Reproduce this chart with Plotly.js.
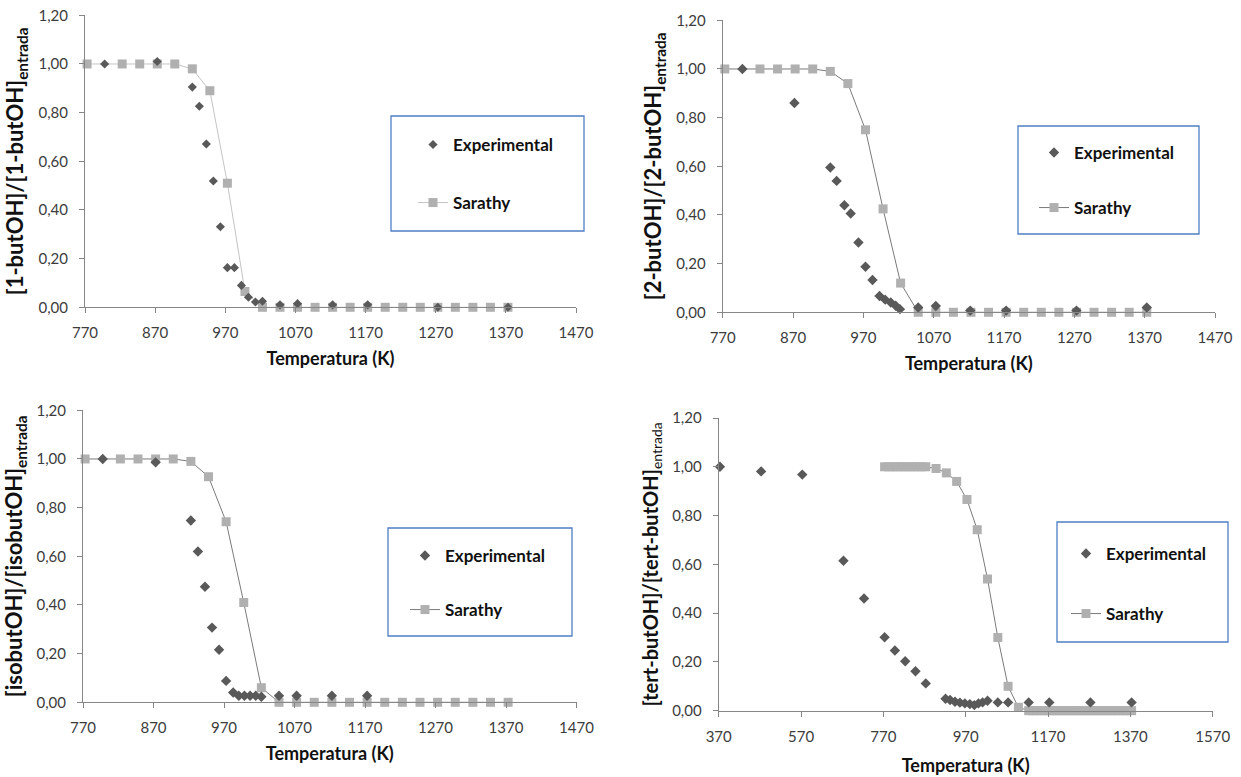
<!DOCTYPE html>
<html>
<head>
<meta charset="utf-8">
<script src="https://cdn.plot.ly/plotly-3.0.1.min.js"></script>
<style>
  html, body { margin: 0; padding: 0; background: #ffffff; }
  #chart { width: 1241px; height: 777px; }
</style>
</head>
<body>
<div id="chart"></div>
<script>
// Remaining fraction of each butanol isomer vs. temperature (K):
// experimental points and the Sarathy mechanism prediction.

const X_TICKS_A = [770, 870, 970, 1070, 1170, 1270, 1370, 1470];
const X_TICKS_B = [370, 570, 770, 970, 1170, 1370, 1570];
const Y_TICKS = [0, 0.2, 0.4, 0.6, 0.8, 1.0, 1.2];

const X_TITLE = 'Temperatura (K)';
const SUBSCRIPT = 'entrada';
const Y_TITLES = ['[1-butOH]/[1-butOH]', '[2-butOH]/[2-butOH]', '[isobutOH]/[isobutOH]', '[tert-butOH]/[tert-butOH]'];
const SERIES_NAMES = ['Experimental', 'Sarathy'];

// Sarathy model, shared temperature grid for 1-, 2- and iso-butanol
const T_SARATHY = [773, 823, 848, 873, 898, 923, 948, 973, 998, 1023, 1048, 1073, 1098, 1123, 1148, 1173, 1198, 1223, 1248, 1273, 1298, 1323, 1348, 1373];
const SARATHY_1BUT = [1, 1, 1, 1, 1, 0.98, 0.89, 0.51, 0.065, 0, 0, 0, 0, 0, 0, 0, 0, 0, 0, 0, 0, 0, 0, 0];
const SARATHY_2BUT = [1, 1, 1, 1, 1, 0.99, 0.94, 0.75, 0.425, 0.12, 0, 0, 0, 0, 0, 0, 0, 0, 0, 0, 0, 0, 0, 0];
const SARATHY_ISOBUT = [1, 1, 1, 1, 1, 0.99, 0.927, 0.742, 0.41, 0.06, 0, 0, 0, 0, 0, 0, 0, 0, 0, 0, 0, 0, 0, 0];

// Sarathy model, tert-butanol (finer grid on the plateaus)
const T_SARATHY_TERT = [773, 783, 793, 803, 813, 823, 833, 843, 853, 863, 873, 898, 923, 948, 973, 998, 1023, 1048, 1073, 1098, 1123, 1133, 1143, 1153, 1163, 1173, 1183, 1193, 1203, 1213, 1223, 1233, 1243, 1253, 1263, 1273, 1283, 1293, 1303, 1313, 1323, 1333, 1343, 1353, 1363, 1373];
const SARATHY_TERT = [1, 1, 1, 1, 1, 1, 1, 1, 1, 1, 1, 0.993, 0.975, 0.94, 0.866, 0.742, 0.54, 0.30, 0.10, 0.014, 0, 0, 0, 0, 0, 0, 0, 0, 0, 0, 0, 0, 0, 0, 0, 0, 0, 0, 0, 0, 0, 0, 0, 0, 0, 0];

// Experimental data
const T_EXP_1BUT = [798, 873, 923, 933, 943, 953, 963, 973, 983, 993, 1003, 1013, 1023, 1048, 1073, 1123, 1173, 1273, 1373];
const EXP_1BUT = [1.00, 1.01, 0.905, 0.826, 0.671, 0.519, 0.331, 0.163, 0.163, 0.09, 0.041, 0.022, 0.025, 0.01, 0.015, 0.01, 0.01, 0.0, 0.0];

const T_EXP_2BUT = [798, 872, 923, 932, 943, 952, 963, 973, 983, 993, 1001, 1009, 1016, 1022, 1048, 1073, 1122, 1173, 1273, 1373];
const EXP_2BUT = [1.00, 0.86, 0.595, 0.54, 0.44, 0.406, 0.287, 0.187, 0.133, 0.067, 0.052, 0.04, 0.027, 0.013, 0.02, 0.026, 0.007, 0.007, 0.007, 0.02];

const T_EXP_ISOBUT = [798, 873, 923, 933, 943, 953, 963, 973, 983, 991, 999, 1007, 1015, 1023, 1048, 1073, 1123, 1173];
const EXP_ISOBUT = [1.00, 0.986, 0.747, 0.62, 0.475, 0.307, 0.216, 0.088, 0.04, 0.027, 0.027, 0.027, 0.027, 0.023, 0.027, 0.027, 0.027, 0.027];

const T_EXP_TERT = [373, 473, 573, 673, 723, 773, 798, 823, 848, 873, 921, 932, 944, 956, 968, 980, 991, 1001, 1011, 1023, 1048, 1073, 1123, 1173, 1273, 1373];
const EXP_TERT = [1.00, 0.981, 0.968, 0.615, 0.46, 0.301, 0.247, 0.203, 0.162, 0.112, 0.049, 0.044, 0.037, 0.033, 0.030, 0.027, 0.023, 0.030, 0.034, 0.041, 0.034, 0.034, 0.034, 0.034, 0.034, 0.034];

const W = 1241, H = 777;
const FONT = 'Lato, "Open Sans", "Liberation Sans", sans-serif';
const AXIS_GREY = '#868686';
const TICK_TEXT = '#3c3c3c';
const EXP_COLOR = '#595959';
const MODEL_MARKER = '#b0b0b0';

// panel geometry in pixels: plot area, legend box, legend rows
const panels = [
  { tSim: T_SARATHY, sim: SARATHY_1BUT, tExp: T_EXP_1BUT, exp: EXP_1BUT, title: Y_TITLES[0], ticks: X_TICKS_A,
    px: [85, 576], py: [15.3, 307.3], lineColor: '#c4c4c4', diam: 7, titleSize: 22, xStandoff: 12,
    box: [391, 116, 584, 231], legX: 413, rows: [145, 203], subNormal: false },
  { tSim: T_SARATHY, sim: SARATHY_2BUT, tExp: T_EXP_2BUT, exp: EXP_2BUT, title: Y_TITLES[1], ticks: X_TICKS_A,
    px: [722.7, 1215], py: [20.3, 312.3], lineColor: '#7a7a7a', diam: 8, titleSize: 22, xStandoff: 12,
    box: [1018, 126, 1199, 234], legX: 1034, rows: [153, 208], subNormal: false },
  { tSim: T_SARATHY, sim: SARATHY_ISOBUT, tExp: T_EXP_ISOBUT, exp: EXP_ISOBUT, title: Y_TITLES[2], ticks: X_TICKS_A,
    px: [83, 576.5], py: [410.3, 702.3], lineColor: '#7a7a7a', diam: 8, titleSize: 22, xStandoff: 12,
    box: [388, 528, 572, 636], legX: 405, rows: [556, 610], subNormal: false },
  { tSim: T_SARATHY_TERT, sim: SARATHY_TERT, tExp: T_EXP_TERT, exp: EXP_TERT, title: Y_TITLES[3], ticks: X_TICKS_B,
    px: [718.7, 1212.7], py: [418, 710.7], lineColor: '#7a7a7a', diam: 8, titleSize: 20, xStandoff: 15,
    box: [1057, 522, 1228, 642], legX: 1066, rows: [554, 614], subNormal: true }
];

const traces = [];
const layout = {
  width: W, height: H,
  margin: { l: 0, r: 0, t: 0, b: 0 },
  paper_bgcolor: '#ffffff', plot_bgcolor: '#ffffff',
  separators: ',.',
  font: { family: FONT, color: '#000000' },
  showlegend: true,
  shapes: []
};

panels.forEach((p, i) => {
  const n = i + 1;
  const xa = n === 1 ? 'x' : 'x' + n;
  const ya = n === 1 ? 'y' : 'y' + n;
  const legA = 'legend' + (2 * i + 1 === 1 ? '' : 2 * i + 1);
  const legB = 'legend' + (2 * i + 2);

  traces.push({
    type: 'scatter', mode: 'lines+markers', name: SERIES_NAMES[1],
    x: p.tSim, y: p.sim, xaxis: xa, yaxis: ya, legend: legB,
    line: { color: p.lineColor, width: 1 },
    marker: { symbol: 'square', size: 9, color: MODEL_MARKER },
    cliponaxis: false
  });
  traces.push({
    type: 'scatter', mode: 'markers', name: SERIES_NAMES[0],
    x: p.tExp, y: p.exp, xaxis: xa, yaxis: ya, legend: legA,
    marker: { symbol: 'diamond', size: p.diam, color: EXP_COLOR },
    cliponaxis: false
  });

  const sub = p.subNormal
    ? '<sub><span style="font-weight:normal">' + SUBSCRIPT + '</span></sub>'
    : '<sub>' + SUBSCRIPT + '</sub>';

  layout['xaxis' + (n === 1 ? '' : n)] = {
    domain: [p.px[0] / W, p.px[1] / W],
    anchor: ya,
    range: [p.ticks[0], p.ticks[p.ticks.length - 1]],
    tickmode: 'array', tickvals: p.ticks, ticktext: p.ticks.map(String),
    showgrid: false, zeroline: false,
    showline: true, linecolor: AXIS_GREY, linewidth: 1,
    ticks: 'outside', ticklen: 5, tickcolor: AXIS_GREY, tickwidth: 1,
    ticklabelstandoff: 7,
    tickfont: { family: FONT, size: 15, color: TICK_TEXT },
    automargin: false,
    title: { text: X_TITLE, font: { family: FONT, size: 18, weight: 'bold', color: '#111111' }, standoff: p.xStandoff }
  };
  layout['yaxis' + (n === 1 ? '' : n)] = {
    domain: [1 - p.py[1] / H, 1 - p.py[0] / H],
    anchor: xa,
    range: [0, 1.2],
    tickmode: 'array', tickvals: Y_TICKS, tickformat: '.2f',
    showgrid: false, zeroline: false,
    showline: true, linecolor: AXIS_GREY, linewidth: 1,
    ticks: 'outside', ticklen: 5, tickcolor: AXIS_GREY, tickwidth: 1,
    ticklabelstandoff: 8,
    tickfont: { family: FONT, size: 15, color: TICK_TEXT },
    automargin: false,
    title: { text: p.title + sub, font: { family: FONT, size: p.titleSize, weight: 'bold', color: '#111111' }, standoff: 8 }
  };

  const legendBase = {
    x: p.legX / W, xanchor: 'left', yanchor: 'middle',
    bgcolor: 'rgba(0,0,0,0)', borderwidth: 0,
    font: { family: FONT, size: 17, weight: 'bold', color: '#111111' }
  };
  layout[legA] = Object.assign({}, legendBase, { y: 1 - p.rows[0] / H });
  layout[legB] = Object.assign({}, legendBase, { y: 1 - p.rows[1] / H });

  layout.shapes.push({
    type: 'rect', xref: 'paper', yref: 'paper',
    x0: p.box[0] / W, x1: p.box[2] / W, y0: 1 - p.box[3] / H, y1: 1 - p.box[1] / H,
    line: { color: '#4f7fc6', width: 1.3 }, fillcolor: 'rgba(0,0,0,0)', layer: 'below'
  });
});

Plotly.newPlot('chart', traces, layout, { displayModeBar: false, staticPlot: true });
</script>
</body>
</html>
